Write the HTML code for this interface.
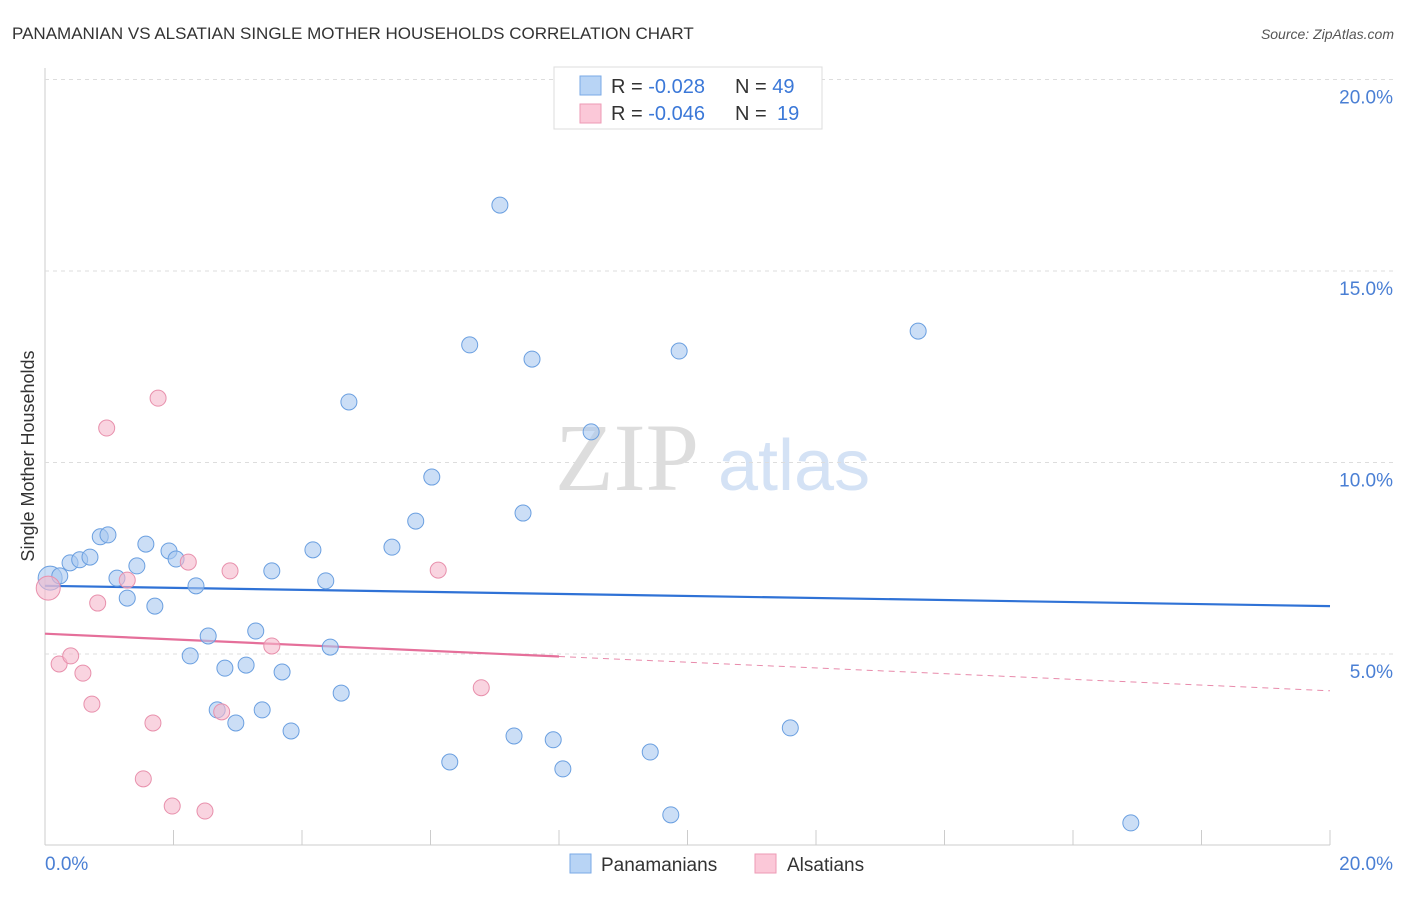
<!DOCTYPE html>
<html><head><meta charset="utf-8"><style>
body{margin:0;background:#fff;font-family:"Liberation Sans",sans-serif;}
</style></head><body>
<svg id="chart" width="1406" height="892" xmlns="http://www.w3.org/2000/svg" style="font-family:'Liberation Sans',sans-serif">
<text x="12" y="39" font-size="17" fill="#333">PANAMANIAN VS ALSATIAN SINGLE MOTHER HOUSEHOLDS CORRELATION CHART</text>
<text x="1394" y="39" font-size="14" fill="#555" text-anchor="end" font-style="italic">Source: ZipAtlas.com</text>
<text x="555" y="490" font-size="96" fill="#ddd" font-family="Liberation Serif,serif">ZIP</text>
<text x="718" y="490" font-size="72" fill="#d4e2f5">atlas</text>
<text transform="translate(34,456) rotate(-90)" font-size="18" fill="#333" text-anchor="middle">Single Mother Households</text>
<g id="grid"></g><g id="ticks"></g><g id="lines"></g><g id="pts"></g>
<g>
<rect x="554" y="67" width="268" height="62" fill="#fff" stroke="#ddd"/>
<rect x="580" y="76" width="21" height="19" fill="#b8d4f5" stroke="#7aaae6"/>
<rect x="580" y="104" width="21" height="19" fill="#fbc8d8" stroke="#ee9ab5"/>
<text x="611" y="93" font-size="20" fill="#333">R = <tspan fill="#3b78d8">-0.028</tspan><tspan x="735">N = </tspan><tspan fill="#3b78d8">49</tspan></text>
<text x="611" y="120" font-size="20" fill="#333">R = <tspan fill="#3b78d8">-0.046</tspan><tspan x="735">N = </tspan><tspan fill="#3b78d8" x="777">19</tspan></text>
</g>
<g>
<rect x="570" y="854" width="21" height="19" fill="#b8d4f5" stroke="#7aaae6"/>
<text x="601" y="871" font-size="19" fill="#333">Panamanians</text>
<rect x="755" y="854" width="21" height="19" fill="#fbc8d8" stroke="#ee9ab5"/>
<text x="787" y="871" font-size="19" fill="#333">Alsatians</text>
</g>
</svg>
<script>
const blueX=[0.08,0.23,0.39,0.54,0.70,0.86,0.98,1.12,1.28,1.43,1.57,1.71,1.93,2.04,2.26,2.35,2.54,2.68,2.80,2.97,3.13,3.28,3.38,3.53,3.69,3.83,4.17,4.37,4.44,4.61,4.73,5.40,5.77,6.02,6.30,6.61,7.08,7.30,7.44,7.58,7.91,8.06,8.50,9.42,9.74,9.87,11.60,13.59,16.90];
const blueY=[6.98,7.04,7.38,7.46,7.53,8.06,8.11,6.98,6.46,7.30,7.87,6.25,7.69,7.48,4.95,6.78,5.47,3.54,4.63,3.20,4.71,5.60,3.54,7.17,4.53,2.99,7.72,6.91,5.18,3.98,11.58,7.79,8.47,9.62,2.18,13.07,16.72,2.86,8.68,12.70,2.76,2.00,10.80,2.44,0.80,12.91,3.07,13.43,0.59];
const pinkX=[0.05,0.22,0.40,0.59,0.73,0.82,0.96,1.28,1.53,1.68,1.76,1.98,2.23,2.49,2.75,2.88,3.53,6.12,6.79];
const pinkY=[6.72,4.74,4.95,4.50,3.69,6.33,10.90,6.93,1.74,3.20,11.68,1.03,7.40,0.90,3.49,7.17,5.21,7.19,4.12];
const yTicks=[5,10,15,20];
const xTickLabels=["0.0%","20.0%"];
const blueTrend=[6.78,6.25];
const pinkTrend=[5.53,4.04];
const NS="http://www.w3.org/2000/svg";
const X=v=>45+v/20*1285, Y=v=>845.5-v*38.3;
function mk(t,a,p){const e=document.createElementNS(NS,t);for(const k in a)e.setAttribute(k,a[k]);document.getElementById(p).appendChild(e);return e;}
let e=mk('line',{x1:45,y1:68,x2:45,y2:845,stroke:'#ccc'},'grid');

e=mk('line',{x1:45,y1:845,x2:1330,y2:845,stroke:'#ccc'},'grid');

yTicks.forEach(t=>{
 e=mk('line',{x1:45,y1:Y(t),x2:1394,y2:Y(t),stroke:'#ddd','stroke-dasharray':'4,4'},'grid');
 
 e=mk('text',{x:1393,y:Y(t)+24,'font-size':19,fill:'#4a7fd4','text-anchor':'end'},'ticks');
 e.textContent=t.toFixed(1)+'%';
 
});
for(let i=0;i<=10;i++){e=mk('line',{x1:X(i*2),y1:830,x2:X(i*2),y2:845,stroke:'#ccc'},'ticks');
 }
e=mk('text',{x:45,y:870,'font-size':19,fill:'#4a7fd4'},'ticks');e.textContent=xTickLabels[0];

e=mk('text',{x:1393,y:870,'font-size':19,fill:'#4a7fd4','text-anchor':'end'},'ticks');e.textContent=xTickLabels[1];

e=mk('line',{x1:X(0),y1:Y(blueTrend[0]),x2:X(20),y2:Y(blueTrend[1]),stroke:'#2f72d6','stroke-width':2.2},'lines');

const pm=pinkTrend[0]+(pinkTrend[1]-pinkTrend[0])*0.4;
e=mk('line',{x1:X(0),y1:Y(pinkTrend[0]),x2:X(8),y2:Y(pm),stroke:'#e56f9a','stroke-width':2.2},'lines');

e=mk('line',{x1:X(8),y1:Y(pm),x2:X(20),y2:Y(pinkTrend[1]),stroke:'#e88aab','stroke-width':1,'stroke-dasharray':'6,5'},'lines');

blueX.forEach((v,i)=>{e=mk('circle',{cx:X(v),cy:Y(blueY[i]),r:i==0?12:8,fill:'rgba(168,200,240,0.6)',stroke:'#6a9fe0','stroke-width':1},'pts');
 });
pinkX.forEach((v,i)=>{e=mk('circle',{cx:X(v),cy:Y(pinkY[i]),r:i==0?12:8,fill:'rgba(245,184,204,0.6)',stroke:'#e890ac','stroke-width':1},'pts');
 });
</script>
</body></html>
